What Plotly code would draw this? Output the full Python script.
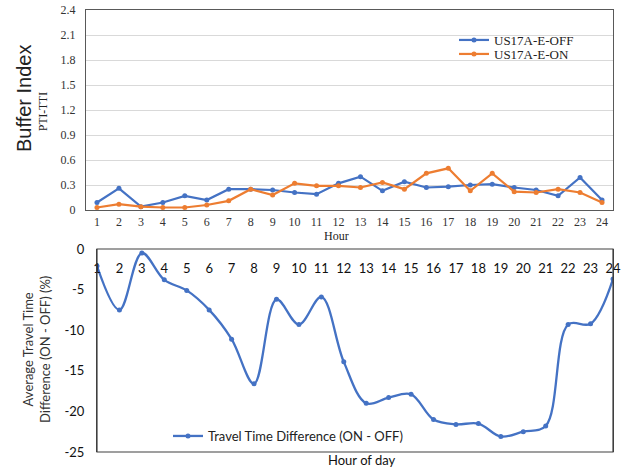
import plotly.graph_objects as go

# Hourly buffer index (PTI - TTI) for the two scenarios
hours = list(range(1, 25))
buffer_off = [0.09, 0.26, 0.04, 0.09, 0.17, 0.12, 0.25, 0.25, 0.24, 0.21, 0.19, 0.32,
              0.40, 0.23, 0.34, 0.27, 0.28, 0.30, 0.31, 0.27, 0.24, 0.17, 0.39, 0.12]
buffer_on = [0.03, 0.07, 0.04, 0.03, 0.03, 0.06, 0.11, 0.25, 0.18, 0.32, 0.29, 0.29,
             0.27, 0.33, 0.25, 0.44, 0.50, 0.23, 0.44, 0.22, 0.21, 0.25, 0.21, 0.09]

# Average travel time difference, ON minus OFF (%)
tt_diff = [-2.1, -7.5, -0.5, -3.8, -5.1, -7.5, -11.1, -16.6, -6.2, -9.3, -5.9, -13.9,
           -19.0, -18.3, -17.9, -21.0, -21.6, -21.5, -23.1, -22.5, -21.8, -9.3, -9.2, -3.7]

top_ticks = [0, 0.3, 0.6, 0.9, 1.2, 1.5, 1.8, 2.1, 2.4]
bottom_ticks = [0, -5, -10, -15, -20, -25]

W, H = 623, 472
BLUE = "#4472C4"
ORANGE = "#ED7D31"
SERIF = "Liberation Serif"
SANS = "Lato"
FRAME = "#404040"


def px_x(a, b):
    return [a / W, b / W]


def px_y(top, bottom):
    return [1 - bottom / H, 1 - top / H]


fig = go.Figure()

fig.add_trace(go.Scatter(
    x=hours, y=buffer_off, name="US17A-E-OFF", mode="lines+markers",
    line=dict(color=BLUE, width=2.2), marker=dict(size=5, color=BLUE),
    xaxis="x", yaxis="y", legend="legend",
))
fig.add_trace(go.Scatter(
    x=hours, y=buffer_on, name="US17A-E-ON", mode="lines+markers",
    line=dict(color=ORANGE, width=2.2), marker=dict(size=5, color=ORANGE),
    xaxis="x", yaxis="y", legend="legend3",
))
fig.add_trace(go.Scatter(
    x=hours, y=tt_diff, name="Travel Time Difference (ON - OFF)", mode="lines+markers",
    line=dict(color=BLUE, width=2.3, shape="spline", smoothing=1.0),
    marker=dict(size=5, color=BLUE),
    xaxis="x2", yaxis="y2", legend="legend2",
))

top_legend = dict(xanchor="left", yanchor="middle", bgcolor="rgba(0,0,0,0)",
                  font=dict(family=SERIF, size=13, color="#222222"), itemwidth=30)

fig.update_layout(
    width=W, height=H,
    margin=dict(l=0, r=0, t=0, b=0, autoexpand=False),
    paper_bgcolor="white", plot_bgcolor="white",
    xaxis=dict(
        domain=px_x(86, 613), range=[0.5, 24.5],
        tickmode="array", tickvals=hours, ticktext=[str(h) for h in hours],
        showgrid=False, zeroline=False, showline=True, mirror=True,
        linecolor="#595959", linewidth=1.2, ticks="", automargin=False,
        tickfont=dict(family=SERIF, size=12, color="#333333"),
        anchor="y",
    ),
    yaxis=dict(
        domain=px_y(10, 210), range=[0, 2.4],
        tickmode="array", tickvals=top_ticks, ticktext=[f"{v:g}" for v in top_ticks],
        showgrid=True, gridcolor="#d9d9d9", gridwidth=1, zeroline=False,
        showline=True, mirror=True, linecolor="#595959", linewidth=1.2, ticks="",
        tickfont=dict(family=SERIF, size=12, color="#333333"), automargin=False,
        ticklabelstandoff=7,
        anchor="x",
    ),
    # hour axis of the bottom panel: labels sit just under the panel's top edge
    xaxis2=dict(
        domain=px_x(97, 613), range=[1, 24],
        anchor="free", position=1 - 259 / H, side="bottom",
        tickmode="array", tickvals=hours, ticktext=[str(h) for h in hours],
        showgrid=False, zeroline=False, showline=False, ticks="", automargin=False,
        tickfont=dict(family=SANS, size=13, color="#111111"),
    ),
    yaxis2=dict(
        domain=px_y(249, 452), range=[-25, 0],
        tickmode="array", tickvals=bottom_ticks,
        ticktext=[str(v) for v in bottom_ticks],
        showgrid=False, zeroline=False, showline=True, mirror=True,
        linecolor=FRAME, linewidth=1.2, ticks="", automargin=False,
        tickfont=dict(family=SANS, size=13, color="#111111"),
        ticklabelstandoff=9,
        anchor="x2",
    ),
    legend=dict(x=454 / W, y=1 - 40 / H, **top_legend),
    legend3=dict(x=454 / W, y=1 - 54 / H, **top_legend),
    legend2=dict(
        x=168 / W, y=1 - 436 / H, xanchor="left", yanchor="middle",
        bgcolor="rgba(0,0,0,0)", font=dict(family=SANS, size=13, color="#222222"),
        itemwidth=30,
    ),
    showlegend=True,
)

# frame around the bottom panel
fig.add_shape(type="rect", xref="x2 domain", yref="y2 domain", x0=0, x1=1, y0=0, y1=1,
              line=dict(color=FRAME, width=1.2), fillcolor="rgba(0,0,0,0)", layer="above")

annotations = [
    dict(text="Buffer Index", x=24 / W, y=1 - 99 / H, textangle=-90,
         font=dict(family="Liberation Sans", size=20, color="#222222")),
    dict(text="PTI-TTI", x=43 / W, y=1 - 112 / H, textangle=-90,
         font=dict(family=SERIF, size=11.5, color="#222222")),
    dict(text="Hour", x=336 / W, y=1 - 236 / H,
         font=dict(family=SERIF, size=12, color="#222222")),
    dict(text="Average Travel Time<br>Difference (ON - OFF) (%)", x=36 / W, y=1 - 350 / H,
         textangle=-90, font=dict(family=SANS, size=13, color="#333333")),
    dict(text="Hour of day", x=362 / W, y=1 - 460 / H,
         font=dict(family=SANS, size=13, color="#111111")),
]
for a in annotations:
    fig.add_annotation(xref="paper", yref="paper", showarrow=False,
                       xanchor="center", yanchor="middle", **a)

fig.write_html("out.html")
